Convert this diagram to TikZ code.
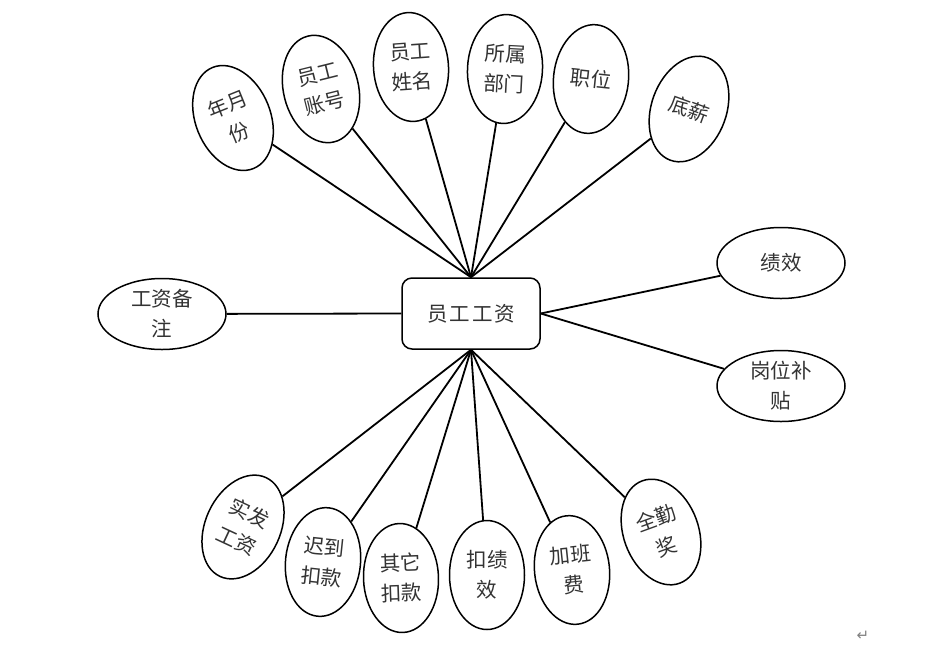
\documentclass[tikz,border=0pt]{standalone}
\usepackage{fontspec}
\newfontfamily\cjk{Noto Sans CJK SC}
\newfontfamily\dejavu{DejaVu Sans}
\usetikzlibrary{shapes.geometric}
\begin{document}
\begin{tikzpicture}[x=1pt,y=1pt,
  attr/.style={draw, ellipse, line width=1.5pt, minimum width=75pt, minimum height=109pt, inner sep=0pt, align=center, font=\cjk\fontsize{20.5}{30}\selectfont, text=black!80},
  hattr/.style={attr, minimum width=128pt, minimum height=71pt},
  entbox/.style={draw, rounded corners=10pt, line width=1.5pt, minimum width=138pt, minimum height=71pt, font=\cjk\fontsize{20.5}{24}\selectfont, text=black!80},
  link/.style={line width=1.8pt}]
\useasboundingbox (0,0) rectangle (944,-662);
\node[entbox] (c) at (471,-313.5) {员\hspace{2pt}工\hspace{2pt}工\hspace{2pt}资};
% top
\node[attr, rotate=22] (a1) at (233,-118) {年月\\份};
\node[attr, rotate=14] (a2) at (321,-89) {员工\\账号};
\node[attr, rotate=4] (a3) at (411,-67) {员工\\姓名};
\node[attr, rotate=-3] (a4) at (505,-69) {所属\\部门};
\node[attr, rotate=-6] (a5) at (591,-79) {职位};
\node[attr, rotate=-20] (a6) at (689,-109) {底薪};
% sides
\node[hattr] (l1) at (162,-314) {工资备\\注};
\node[hattr] (r1) at (781,-263) {绩效};
\node[hattr] (r2) at (781,-386) {岗位补\\贴};
% bottom
\node[attr, rotate=-25] (b1) at (243,-527) {实发\\工资};
\node[attr, rotate=-6] (b2) at (323,-562) {迟到\\扣款};
\node[attr, rotate=2] (b3) at (401,-578) {其它\\扣款};
\node[attr, rotate=0] (b4) at (487,-575) {扣绩\\效};
\node[attr, rotate=6] (b5) at (572,-570) {加班\\费};
\node[attr, rotate=20] (b6) at (661,-532) {全勤\\奖};
% links
\foreach \n in {a1,a2,a3,a4,a5,a6} \draw[link] (\n) -- (c.north);
\foreach \n in {b1,b2,b3,b4,b5,b6} \draw[link] (\n) -- (c.south);
\draw[link] (l1) -- (c.west);
\draw[link] (r1) -- (c.east);
\draw[link] (r2) -- (c.east);
\node[font=\dejavu\fontsize{15}{15}\selectfont, text=black!50] (ret) at (863,-636) {↵};
\end{tikzpicture}
\end{document}
